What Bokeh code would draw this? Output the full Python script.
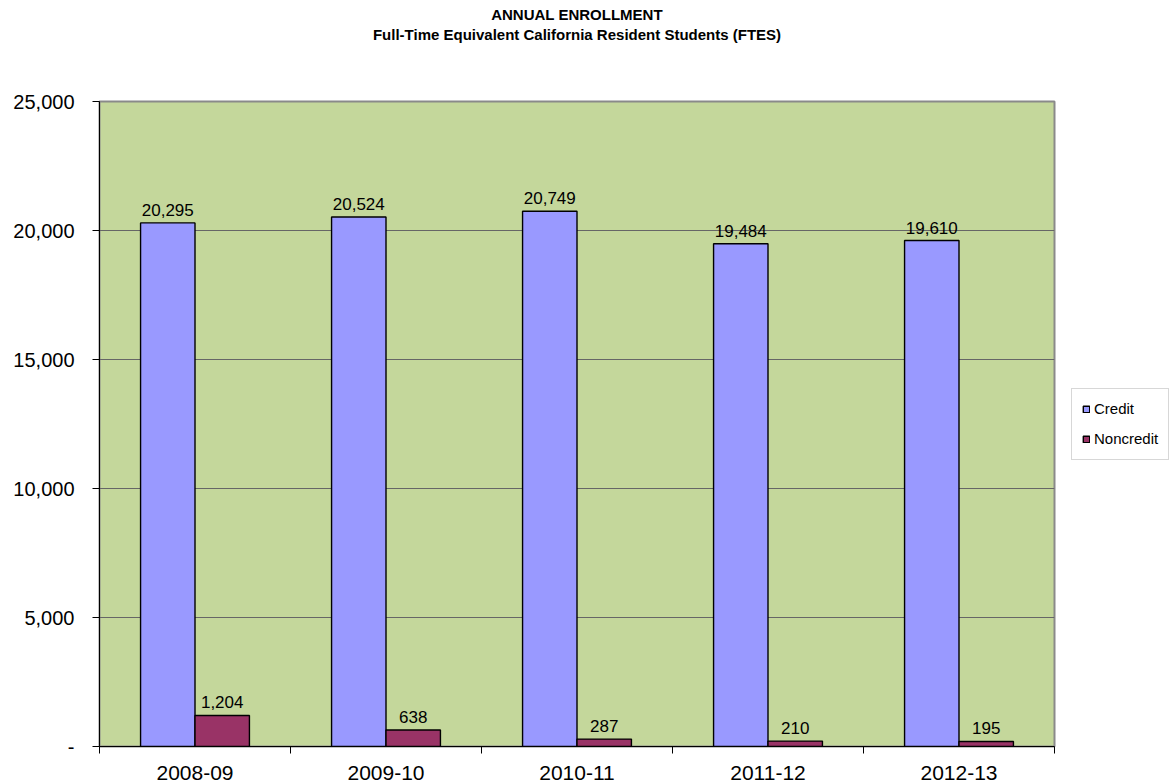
import numpy as np
from bokeh.plotting import figure
from bokeh.models import (ColumnDataSource, FixedTicker, Range1d, LabelSet,
                          Legend, LegendItem, Title)
from bokeh.core.properties import value
from bokeh.embed import file_html
from bokeh.resources import INLINE

# ---- data ----
years = ["2008-09", "2009-10", "2010-11", "2011-12", "2012-13"]
credit = [20295, 20524, 20749, 19484, 19610]
noncredit = [1204, 638, 287, 210, 195]
y_ticks = [0, 5000, 10000, 15000, 20000, 25000]
y_tick_labels = ["-", "5,000", "10,000", "15,000", "20,000", "25,000"]
series_names = ["Credit", "Noncredit"]
title_lines = ["ANNUAL ENROLLMENT",
               "Full-Time Equivalent California Resident Students (FTES)"]

FONT = "Liberation Sans"
bw = 0.285
idx = np.arange(len(years))
centers = idx + 0.5

src_c = ColumnDataSource(dict(x=centers - bw / 2, top=credit,
                              lab=[f"{v:,}" for v in credit]))
src_n = ColumnDataSource(dict(x=centers + bw / 2, top=noncredit,
                              lab=[f"{v:,}" for v in noncredit]))

p = figure(frame_width=955, frame_height=645,
           min_border_left=99, min_border_right=107,
           min_border_top=101, min_border_bottom=37,
           x_range=Range1d(0, len(years)), y_range=Range1d(0, 25000),
           output_backend="svg", toolbar_location=None,
           background_fill_color="#C4D79B", border_fill_color="white")

# title: main line outermost, sub line below, blank spacer nearest the frame
p.title.text = title_lines[0]
p.title.text_font = FONT
p.title.text_font_size = "15px"
p.title.text_font_style = "bold"
p.title.text_color = "black"
p.title.align = "center"
p.title.offset = 10
p.title.standoff = 1
spacer = Title(text=" ", text_font=FONT, text_font_size="15px", standoff=39)
sub = Title(text=title_lines[1], text_font=FONT, text_font_size="15px",
            text_font_style="bold", text_color="black", align="center",
            offset=10, standoff=1)
p.add_layout(spacer, "above")
p.add_layout(sub, "above")

r_c = p.vbar(x="x", top="top", width=bw, source=src_c,
             fill_color="#9999FF", line_color="black", line_width=1.4)
r_n = p.vbar(x="x", top="top", width=bw, source=src_n,
             fill_color="#993366", line_color="black", line_width=1.4)

for s in (src_c, src_n):
    p.add_layout(LabelSet(x="x", y="top", text="lab", source=s,
                          text_align="center", text_baseline="bottom",
                          y_offset=7, text_font=value(FONT),
                          text_font_size=value("17px"), text_color="black"))

# grid
p.xgrid.visible = False
p.ygrid.ticker = FixedTicker(ticks=y_ticks)
p.ygrid.grid_line_color = "#666666"
p.ygrid.grid_line_width = 1

# outline
p.outline_line_color = "#8a8a8a"
p.outline_line_width = 2

# y axis
ya = p.yaxis[0]
ya.ticker = FixedTicker(ticks=y_ticks)
ya.major_label_overrides = {t: l for t, l in zip(y_ticks, y_tick_labels)}
ya.major_label_text_font = FONT
ya.major_label_text_font_size = "20px"
ya.major_label_text_color = "black"
ya.major_tick_out = 7
ya.major_tick_in = 0
ya.minor_tick_out = 0
ya.minor_tick_in = 0
ya.major_label_standoff = 18
ya.axis_line_color = "black"
ya.major_tick_line_color = "black"

# x axis
xa = p.xaxis[0]
xa.ticker = FixedTicker(ticks=list(centers), minor_ticks=list(range(len(years) + 1)))
xa.major_label_overrides = {float(c): y for c, y in zip(centers, years)}
xa.major_label_text_font = FONT
xa.major_label_text_font_size = "21px"
xa.major_label_text_color = "black"
xa.major_tick_out = 0
xa.major_tick_in = 0
xa.minor_tick_out = 7
xa.minor_tick_in = 0
xa.minor_tick_line_color = "black"
xa.major_label_standoff = 12
xa.axis_line_color = "black"

legend = Legend(items=[LegendItem(label=series_names[0], renderers=[r_c]),
                       LegendItem(label=series_names[1], renderers=[r_n])],
                location="left", margin=17, padding=10, spacing=10,
                glyph_width=8, glyph_height=8, label_height=20,
                label_standoff=4, label_text_font=FONT,
                label_text_font_size="15px", label_text_color="black",
                border_line_color="#b0b0b0", border_line_width=1,
                background_fill_color="white")
p.add_layout(legend, "right")

open("out.html", "w").write(file_html(p, INLINE))
